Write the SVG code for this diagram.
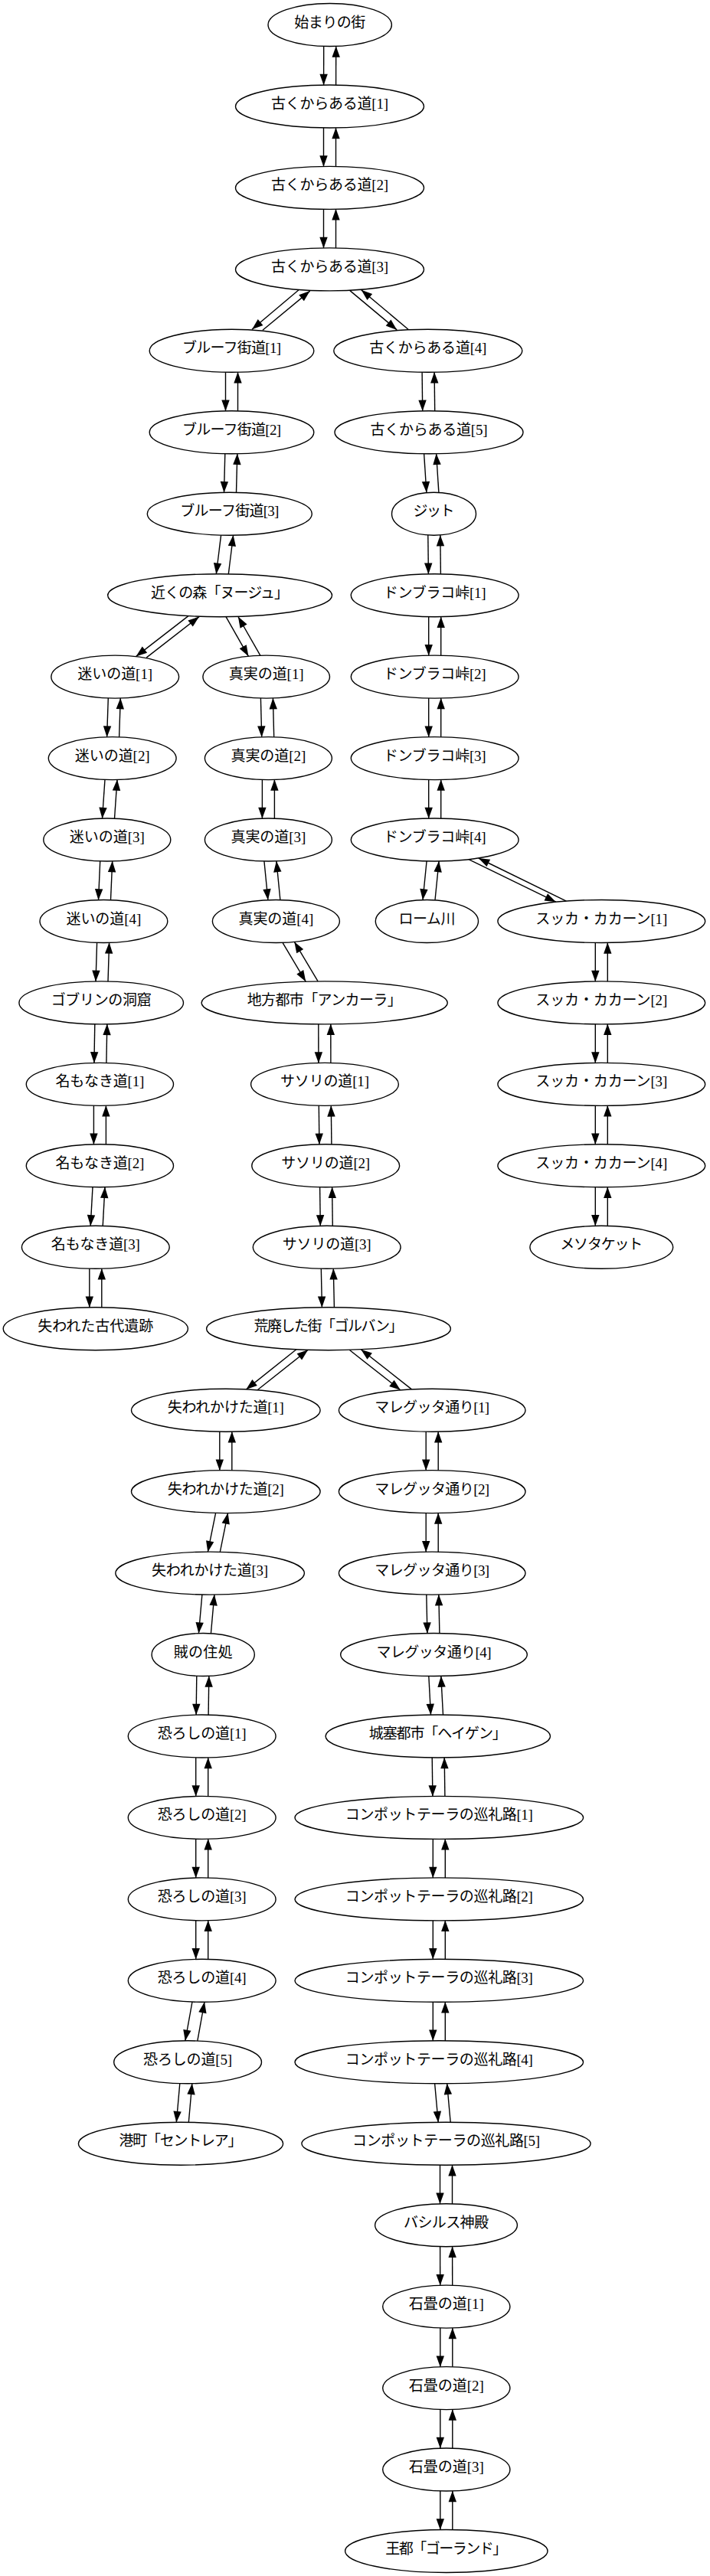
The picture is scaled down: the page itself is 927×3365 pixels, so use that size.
<svg xmlns="http://www.w3.org/2000/svg" width="927" height="3365" viewBox="0 0 927 3365">
<style>
.node ellipse{fill:#fff;stroke:#000;stroke-width:1.4}
.node text{font-family:"Liberation Serif","Noto Sans CJK JP",serif;font-size:19px;text-anchor:middle;fill:#000}
.edge{fill:none;stroke:#000;stroke-width:1.4;marker-end:url(#ah)}
</style>
<defs>
<marker id="ah" markerUnits="userSpaceOnUse" markerWidth="16" markerHeight="12" viewBox="0 0 16 12" refX="14.5" refY="6" orient="auto" overflow="visible">
<path d="M0,0.8 L14.5,6 L0,11.2 z" fill="#000"/>
</marker>
</defs>
<rect width="927" height="3365" fill="#fff"/>
<g id="edges">
<path class="edge" d="M422.7,60.2 L422.6,111.3"/><path class="edge" d="M438.6,111.3 L438.7,60.2"/>
<path class="edge" d="M422.5,166.7 L422.5,217.7"/><path class="edge" d="M438.5,217.7 L438.5,166.7"/>
<path class="edge" d="M422.5,273.1 L422.5,324.2"/><path class="edge" d="M438.5,324.2 L438.5,273.1"/>
<path class="edge" d="M390,378.8 L329,430.3"/><path class="edge" d="M343,431.3 L404.7,380.1"/>
<path class="edge" d="M456.9,379.6 L518.2,430.9"/><path class="edge" d="M533,430.3 L471.7,378.7"/>
<path class="edge" d="M294.5,486 L294.5,537.1"/><path class="edge" d="M310.5,537.1 L310.5,486"/>
<path class="edge" d="M551.1,486 L551.7,537.1"/><path class="edge" d="M567.7,537.1 L567.1,486"/>
<path class="edge" d="M293.8,592.5 L292.5,643.5"/><path class="edge" d="M308.5,643.5 L309.8,592.5"/>
<path class="edge" d="M553.6,592.5 L556.9,643.5"/><path class="edge" d="M572.9,643.5 L569.6,592.5"/>
<path class="edge" d="M288.6,698.9 L282.3,750"/><path class="edge" d="M298.3,750 L304.6,698.9"/>
<path class="edge" d="M558.8,698.9 L559.4,750"/><path class="edge" d="M575.4,750 L574.8,698.9"/>
<path class="edge" d="M245.9,804.6 L177.5,857.6"/><path class="edge" d="M191.1,859.1 L260,805.6"/>
<path class="edge" d="M295,805.6 L324.4,857.3"/><path class="edge" d="M339.8,856.2 L310.9,805.5"/>
<path class="edge" d="M559.7,805.4 L559.7,856.4"/><path class="edge" d="M575.7,856.4 L575.7,805.4"/>
<path class="edge" d="M141.3,911.8 L139.6,962.9"/><path class="edge" d="M155.6,962.9 L157.3,911.8"/>
<path class="edge" d="M340.4,911.8 L341.7,962.9"/><path class="edge" d="M357.7,962.9 L356.4,911.8"/>
<path class="edge" d="M559.7,911.8 L559.7,962.9"/><path class="edge" d="M575.7,962.9 L575.7,911.8"/>
<path class="edge" d="M137,1018.3 L133.5,1069.3"/><path class="edge" d="M149.5,1069.3 L153,1018.3"/>
<path class="edge" d="M342.4,1018.3 L342.4,1069.3"/><path class="edge" d="M358.4,1069.3 L358.4,1018.3"/>
<path class="edge" d="M559.7,1018.3 L559.7,1069.3"/><path class="edge" d="M575.7,1069.3 L575.7,1018.3"/>
<path class="edge" d="M130.7,1124.7 L128.5,1175.8"/><path class="edge" d="M144.5,1175.8 L146.7,1124.7"/>
<path class="edge" d="M344.9,1124.7 L349.9,1175.8"/><path class="edge" d="M365.9,1175.8 L360.9,1124.7"/>
<path class="edge" d="M557.1,1124.7 L552,1175.8"/><path class="edge" d="M568,1175.8 L573.1,1124.7"/>
<path class="edge" d="M612,1122.6 L725.8,1178.2"/><path class="edge" d="M739.4,1177.1 L624.8,1121"/>
<path class="edge" d="M126.6,1231.2 L125,1282.2"/><path class="edge" d="M141,1282.2 L142.6,1231.2"/>
<path class="edge" d="M369,1231.3 L399.2,1282.2"/><path class="edge" d="M415.1,1281.9 L384.3,1230.2"/>
<path class="edge" d="M777.3,1231.2 L777.3,1282.2"/><path class="edge" d="M793.3,1282.2 L793.3,1231.2"/>
<path class="edge" d="M123.8,1337.6 L122.9,1388.7"/><path class="edge" d="M138.9,1388.7 L139.8,1337.6"/>
<path class="edge" d="M415.8,1337.6 L415.9,1388.7"/><path class="edge" d="M431.9,1388.7 L431.8,1337.6"/>
<path class="edge" d="M777.3,1337.6 L777.3,1388.7"/><path class="edge" d="M793.3,1388.7 L793.3,1337.6"/>
<path class="edge" d="M122.4,1444.1 L122.4,1495.1"/><path class="edge" d="M138.4,1495.1 L138.4,1444.1"/>
<path class="edge" d="M416.3,1444.1 L416.9,1495.1"/><path class="edge" d="M432.9,1495.1 L432.3,1444.1"/>
<path class="edge" d="M777.3,1444.1 L777.3,1495.1"/><path class="edge" d="M793.3,1495.1 L793.3,1444.1"/>
<path class="edge" d="M121,1550.5 L118.2,1601.6"/><path class="edge" d="M134.2,1601.6 L137,1550.5"/>
<path class="edge" d="M417.6,1550.5 L418.3,1601.6"/><path class="edge" d="M434.3,1601.6 L433.6,1550.5"/>
<path class="edge" d="M777.3,1550.5 L777.3,1601.6"/><path class="edge" d="M793.3,1601.6 L793.3,1550.5"/>
<path class="edge" d="M116.8,1657 L116.8,1708"/><path class="edge" d="M132.8,1708 L132.8,1657"/>
<path class="edge" d="M419.3,1657 L420.4,1708"/><path class="edge" d="M436.4,1708 L435.3,1657"/>
<path class="edge" d="M386.9,1762.7 L321.3,1815.1"/><path class="edge" d="M336.1,1815.8 L402.2,1763.3"/>
<path class="edge" d="M456.1,1763.3 L522.8,1815.8"/><path class="edge" d="M537.5,1814.9 L471.3,1762.7"/>
<path class="edge" d="M286.8,1869.9 L286.8,1920.9"/><path class="edge" d="M302.8,1920.9 L302.8,1869.9"/>
<path class="edge" d="M556.2,1869.9 L556.2,1920.9"/><path class="edge" d="M572.2,1920.9 L572.2,1869.9"/>
<path class="edge" d="M281.6,1976.3 L271.3,2027.4"/><path class="edge" d="M287.3,2027.4 L297.6,1976.3"/>
<path class="edge" d="M556.2,1976.3 L556.2,2027.4"/><path class="edge" d="M572.2,2027.4 L572.2,1976.3"/>
<path class="edge" d="M263.9,2082.8 L259.4,2133.8"/><path class="edge" d="M275.4,2133.8 L279.9,2082.8"/>
<path class="edge" d="M556.8,2082.8 L557.9,2133.8"/><path class="edge" d="M573.9,2133.8 L572.8,2082.8"/>
<path class="edge" d="M256.8,2189.2 L256.1,2240.3"/><path class="edge" d="M272.1,2240.3 L272.8,2189.2"/>
<path class="edge" d="M559.8,2189.2 L562.5,2240.3"/><path class="edge" d="M578.5,2240.3 L575.8,2189.2"/>
<path class="edge" d="M255.7,2295.7 L255.7,2346.7"/><path class="edge" d="M271.7,2346.7 L271.7,2295.7"/>
<path class="edge" d="M564.2,2295.7 L564.9,2346.7"/><path class="edge" d="M580.9,2346.7 L580.2,2295.7"/>
<path class="edge" d="M255.7,2402.1 L255.7,2453.2"/><path class="edge" d="M271.7,2453.2 L271.7,2402.1"/>
<path class="edge" d="M565.3,2402.1 L565.3,2453.2"/><path class="edge" d="M581.3,2453.2 L581.3,2402.1"/>
<path class="edge" d="M255.7,2508.6 L255.7,2559.6"/><path class="edge" d="M271.7,2559.6 L271.7,2508.6"/>
<path class="edge" d="M565.3,2508.6 L565.3,2559.6"/><path class="edge" d="M581.3,2559.6 L581.3,2508.6"/>
<path class="edge" d="M251,2615 L241.8,2666.1"/><path class="edge" d="M257.8,2666.1 L267,2615"/>
<path class="edge" d="M565.3,2615 L565.3,2666.1"/><path class="edge" d="M581.3,2666.1 L581.3,2615"/>
<path class="edge" d="M234.8,2721.5 L230.3,2772.5"/><path class="edge" d="M246.3,2772.5 L250.8,2721.5"/>
<path class="edge" d="M567.6,2721.5 L572.2,2772.5"/><path class="edge" d="M588.2,2772.5 L583.6,2721.5"/>
<path class="edge" d="M574.5,2827.9 L574.5,2879"/><path class="edge" d="M590.5,2879 L590.5,2827.9"/>
<path class="edge" d="M574.6,2934.4 L574.7,2985.4"/><path class="edge" d="M590.7,2985.4 L590.6,2934.4"/>
<path class="edge" d="M574.8,3040.8 L574.8,3091.9"/><path class="edge" d="M590.8,3091.9 L590.8,3040.8"/>
<path class="edge" d="M574.8,3147.3 L574.8,3198.3"/><path class="edge" d="M590.8,3198.3 L590.8,3147.3"/>
<path class="edge" d="M574.8,3253.7 L574.8,3304.8"/><path class="edge" d="M590.8,3304.8 L590.8,3253.7"/>
</g>
<g id="n00" class="node"><ellipse cx="430.7" cy="32.5" rx="80.7" ry="28"/><text x="430.7" y="35.5" textLength="93" lengthAdjust="spacing">始まりの街</text></g>
<g id="n01" class="node"><ellipse cx="430.5" cy="139" rx="123" ry="28"/><text x="430.5" y="142" textLength="153" lengthAdjust="spacing">古くからある道[1]</text></g>
<g id="n02" class="node"><ellipse cx="430.5" cy="245.4" rx="123" ry="28"/><text x="430.5" y="248.4" textLength="153" lengthAdjust="spacing">古くからある道[2]</text></g>
<g id="n03" class="node"><ellipse cx="430.5" cy="351.9" rx="123" ry="28"/><text x="430.5" y="354.9" textLength="153" lengthAdjust="spacing">古くからある道[3]</text></g>
<g id="n04" class="node"><ellipse cx="302.5" cy="458.3" rx="107.3" ry="28"/><text x="302.5" y="461.3" textLength="129" lengthAdjust="spacing">ブルーフ街道[1]</text></g>
<g id="n05" class="node"><ellipse cx="558.8" cy="458.3" rx="123" ry="28"/><text x="558.8" y="461.3" textLength="153" lengthAdjust="spacing">古くからある道[4]</text></g>
<g id="n06" class="node"><ellipse cx="302.5" cy="564.8" rx="107.3" ry="28"/><text x="302.5" y="567.8" textLength="129" lengthAdjust="spacing">ブルーフ街道[2]</text></g>
<g id="n07" class="node"><ellipse cx="560" cy="564.8" rx="123" ry="28"/><text x="560" y="567.8" textLength="153" lengthAdjust="spacing">古くからある道[5]</text></g>
<g id="n08" class="node"><ellipse cx="299.8" cy="671.2" rx="107.5" ry="28"/><text x="299.8" y="674.2" textLength="129" lengthAdjust="spacing">ブルーフ街道[3]</text></g>
<g id="n09" class="node"><ellipse cx="566.5" cy="671.2" rx="55" ry="28"/><text x="566.5" y="674.2" textLength="54" lengthAdjust="spacing">ジット</text></g>
<g id="n10" class="node"><ellipse cx="287.1" cy="777.7" rx="146.4" ry="28"/><text x="287.1" y="780.7" textLength="180" lengthAdjust="spacing">近くの森「ヌージュ」</text></g>
<g id="n11" class="node"><ellipse cx="567.7" cy="777.7" rx="109.4" ry="28"/><text x="567.7" y="780.7" textLength="134" lengthAdjust="spacing">ドンブラコ峠[1]</text></g>
<g id="n12" class="node"><ellipse cx="150.2" cy="884.1" rx="83.4" ry="28"/><text x="150.2" y="887.1" textLength="98" lengthAdjust="spacing">迷いの道[1]</text></g>
<g id="n13" class="node"><ellipse cx="347.7" cy="884.1" rx="82.8" ry="28"/><text x="347.7" y="887.1" textLength="98" lengthAdjust="spacing">真実の道[1]</text></g>
<g id="n14" class="node"><ellipse cx="567.7" cy="884.1" rx="109.4" ry="28"/><text x="567.7" y="887.1" textLength="134" lengthAdjust="spacing">ドンブラコ峠[2]</text></g>
<g id="n15" class="node"><ellipse cx="146.7" cy="990.6" rx="83.4" ry="28"/><text x="146.7" y="993.6" textLength="98" lengthAdjust="spacing">迷いの道[2]</text></g>
<g id="n16" class="node"><ellipse cx="350.4" cy="990.6" rx="83" ry="28"/><text x="350.4" y="993.6" textLength="98" lengthAdjust="spacing">真実の道[2]</text></g>
<g id="n17" class="node"><ellipse cx="567.7" cy="990.6" rx="109.4" ry="28"/><text x="567.7" y="993.6" textLength="134" lengthAdjust="spacing">ドンブラコ峠[3]</text></g>
<g id="n18" class="node"><ellipse cx="139.8" cy="1097" rx="83" ry="28"/><text x="139.8" y="1100" textLength="98" lengthAdjust="spacing">迷いの道[3]</text></g>
<g id="n19" class="node"><ellipse cx="350.4" cy="1097" rx="83" ry="28"/><text x="350.4" y="1100" textLength="98" lengthAdjust="spacing">真実の道[3]</text></g>
<g id="n20" class="node"><ellipse cx="567.7" cy="1097" rx="109.4" ry="28"/><text x="567.7" y="1100" textLength="134" lengthAdjust="spacing">ドンブラコ峠[4]</text></g>
<g id="n21" class="node"><ellipse cx="135.4" cy="1203.5" rx="83.4" ry="28"/><text x="135.4" y="1206.5" textLength="98" lengthAdjust="spacing">迷いの道[4]</text></g>
<g id="n22" class="node"><ellipse cx="360.4" cy="1203.5" rx="83" ry="28"/><text x="360.4" y="1206.5" textLength="98" lengthAdjust="spacing">真実の道[4]</text></g>
<g id="n23" class="node"><ellipse cx="557.4" cy="1203.5" rx="67.1" ry="28"/><text x="557.4" y="1206.5" textLength="74" lengthAdjust="spacing">ローム川</text></g>
<g id="n24" class="node"><ellipse cx="785.3" cy="1203.5" rx="135.4" ry="28"/><text x="785.3" y="1206.5" textLength="172" lengthAdjust="spacing">スッカ・カカーン[1]</text></g>
<g id="n25" class="node"><ellipse cx="132.2" cy="1309.9" rx="107.3" ry="28"/><text x="132.2" y="1312.9" textLength="131" lengthAdjust="spacing">ゴブリンの洞窟</text></g>
<g id="n26" class="node"><ellipse cx="423.7" cy="1309.9" rx="160.6" ry="28"/><text x="423.7" y="1312.9" textLength="202" lengthAdjust="spacing">地方都市「アンカーラ」</text></g>
<g id="n27" class="node"><ellipse cx="785.3" cy="1309.9" rx="135.4" ry="28"/><text x="785.3" y="1312.9" textLength="172" lengthAdjust="spacing">スッカ・カカーン[2]</text></g>
<g id="n28" class="node"><ellipse cx="130.4" cy="1416.4" rx="96.1" ry="28"/><text x="130.4" y="1419.4" textLength="116" lengthAdjust="spacing">名もなき道[1]</text></g>
<g id="n29" class="node"><ellipse cx="424" cy="1416.4" rx="96.4" ry="28"/><text x="424" y="1419.4" textLength="116" lengthAdjust="spacing">サソリの道[1]</text></g>
<g id="n30" class="node"><ellipse cx="785.3" cy="1416.4" rx="135.4" ry="28"/><text x="785.3" y="1419.4" textLength="172" lengthAdjust="spacing">スッカ・カカーン[3]</text></g>
<g id="n31" class="node"><ellipse cx="130.4" cy="1522.8" rx="96.1" ry="28"/><text x="130.4" y="1525.8" textLength="116" lengthAdjust="spacing">名もなき道[2]</text></g>
<g id="n32" class="node"><ellipse cx="425.2" cy="1522.8" rx="96.4" ry="28"/><text x="425.2" y="1525.8" textLength="116" lengthAdjust="spacing">サソリの道[2]</text></g>
<g id="n33" class="node"><ellipse cx="785.3" cy="1522.8" rx="135.4" ry="28"/><text x="785.3" y="1525.8" textLength="172" lengthAdjust="spacing">スッカ・カカーン[4]</text></g>
<g id="n34" class="node"><ellipse cx="124.8" cy="1629.3" rx="96.4" ry="28"/><text x="124.8" y="1632.3" textLength="116" lengthAdjust="spacing">名もなき道[3]</text></g>
<g id="n35" class="node"><ellipse cx="426.7" cy="1629.3" rx="96.4" ry="28"/><text x="426.7" y="1632.3" textLength="116" lengthAdjust="spacing">サソリの道[3]</text></g>
<g id="n36" class="node"><ellipse cx="785.3" cy="1629.3" rx="93.4" ry="28"/><text x="785.3" y="1632.3" textLength="108" lengthAdjust="spacing">メソタケット</text></g>
<g id="n37" class="node"><ellipse cx="124.8" cy="1735.7" rx="120.6" ry="28"/><text x="124.8" y="1738.7" textLength="151" lengthAdjust="spacing">失われた古代遺跡</text></g>
<g id="n38" class="node"><ellipse cx="429" cy="1735.7" rx="159.4" ry="28"/><text x="429" y="1738.7" textLength="195" lengthAdjust="spacing">荒廃した街「ゴルバン」</text></g>
<g id="n39" class="node"><ellipse cx="294.8" cy="1842.2" rx="123.3" ry="28"/><text x="294.8" y="1845.2" textLength="152" lengthAdjust="spacing">失われかけた道[1]</text></g>
<g id="n40" class="node"><ellipse cx="564.2" cy="1842.2" rx="121.8" ry="28"/><text x="564.2" y="1845.2" textLength="150" lengthAdjust="spacing">マレグッタ通り[1]</text></g>
<g id="n41" class="node"><ellipse cx="294.8" cy="1948.6" rx="123.3" ry="28"/><text x="294.8" y="1951.6" textLength="152" lengthAdjust="spacing">失われかけた道[2]</text></g>
<g id="n42" class="node"><ellipse cx="564.2" cy="1948.6" rx="121.8" ry="28"/><text x="564.2" y="1951.6" textLength="150" lengthAdjust="spacing">マレグッタ通り[2]</text></g>
<g id="n43" class="node"><ellipse cx="274.1" cy="2055.1" rx="123.3" ry="28"/><text x="274.1" y="2058.1" textLength="152" lengthAdjust="spacing">失われかけた道[3]</text></g>
<g id="n44" class="node"><ellipse cx="564.2" cy="2055.1" rx="121.8" ry="28"/><text x="564.2" y="2058.1" textLength="150" lengthAdjust="spacing">マレグッタ通り[3]</text></g>
<g id="n45" class="node"><ellipse cx="265.2" cy="2161.5" rx="67.1" ry="28"/><text x="265.2" y="2164.5" textLength="77" lengthAdjust="spacing">賊の住処</text></g>
<g id="n46" class="node"><ellipse cx="566.5" cy="2161.5" rx="121.8" ry="28"/><text x="566.5" y="2164.5" textLength="150" lengthAdjust="spacing">マレグッタ通り[4]</text></g>
<g id="n47" class="node"><ellipse cx="263.7" cy="2268" rx="96.4" ry="28"/><text x="263.7" y="2271" textLength="116" lengthAdjust="spacing">恐ろしの道[1]</text></g>
<g id="n48" class="node"><ellipse cx="571.8" cy="2268" rx="146.7" ry="28"/><text x="571.8" y="2271" textLength="180" lengthAdjust="spacing">城塞都市「ヘイゲン」</text></g>
<g id="n49" class="node"><ellipse cx="263.7" cy="2374.4" rx="96.4" ry="28"/><text x="263.7" y="2377.4" textLength="116" lengthAdjust="spacing">恐ろしの道[2]</text></g>
<g id="n50" class="node"><ellipse cx="573.3" cy="2374.4" rx="188.3" ry="28"/><text x="573.3" y="2377.4" textLength="245" lengthAdjust="spacing">コンポットテーラの巡礼路[1]</text></g>
<g id="n51" class="node"><ellipse cx="263.7" cy="2480.9" rx="96.4" ry="28"/><text x="263.7" y="2483.9" textLength="116" lengthAdjust="spacing">恐ろしの道[3]</text></g>
<g id="n52" class="node"><ellipse cx="573.3" cy="2480.9" rx="188.3" ry="28"/><text x="573.3" y="2483.9" textLength="245" lengthAdjust="spacing">コンポットテーラの巡礼路[2]</text></g>
<g id="n53" class="node"><ellipse cx="263.7" cy="2587.3" rx="96.4" ry="28"/><text x="263.7" y="2590.3" textLength="116" lengthAdjust="spacing">恐ろしの道[4]</text></g>
<g id="n54" class="node"><ellipse cx="573.3" cy="2587.3" rx="188.3" ry="28"/><text x="573.3" y="2590.3" textLength="245" lengthAdjust="spacing">コンポットテーラの巡礼路[3]</text></g>
<g id="n55" class="node"><ellipse cx="245.1" cy="2693.8" rx="96.4" ry="28"/><text x="245.1" y="2696.8" textLength="116" lengthAdjust="spacing">恐ろしの道[5]</text></g>
<g id="n56" class="node"><ellipse cx="573.3" cy="2693.8" rx="188.3" ry="28"/><text x="573.3" y="2696.8" textLength="245" lengthAdjust="spacing">コンポットテーラの巡礼路[4]</text></g>
<g id="n57" class="node"><ellipse cx="236" cy="2800.2" rx="133.6" ry="28"/><text x="236" y="2803.2" textLength="161" lengthAdjust="spacing">港町「セントレア」</text></g>
<g id="n58" class="node"><ellipse cx="582.5" cy="2800.2" rx="188.6" ry="28"/><text x="582.5" y="2803.2" textLength="245" lengthAdjust="spacing">コンポットテーラの巡礼路[5]</text></g>
<g id="n59" class="node"><ellipse cx="582.5" cy="2906.7" rx="92.9" ry="28"/><text x="582.5" y="2909.7" textLength="111" lengthAdjust="spacing">バシルス神殿</text></g>
<g id="n60" class="node"><ellipse cx="582.8" cy="3013.1" rx="83.1" ry="28"/><text x="582.8" y="3016.1" textLength="98" lengthAdjust="spacing">石畳の道[1]</text></g>
<g id="n61" class="node"><ellipse cx="582.8" cy="3119.6" rx="83.1" ry="28"/><text x="582.8" y="3122.6" textLength="98" lengthAdjust="spacing">石畳の道[2]</text></g>
<g id="n62" class="node"><ellipse cx="582.8" cy="3226" rx="83.1" ry="28"/><text x="582.8" y="3229" textLength="98" lengthAdjust="spacing">石畳の道[3]</text></g>
<g id="n63" class="node"><ellipse cx="582.8" cy="3332.5" rx="132.2" ry="28"/><text x="582.8" y="3335.5" textLength="159" lengthAdjust="spacing">王都「ゴーランド」</text></g>
</svg>
